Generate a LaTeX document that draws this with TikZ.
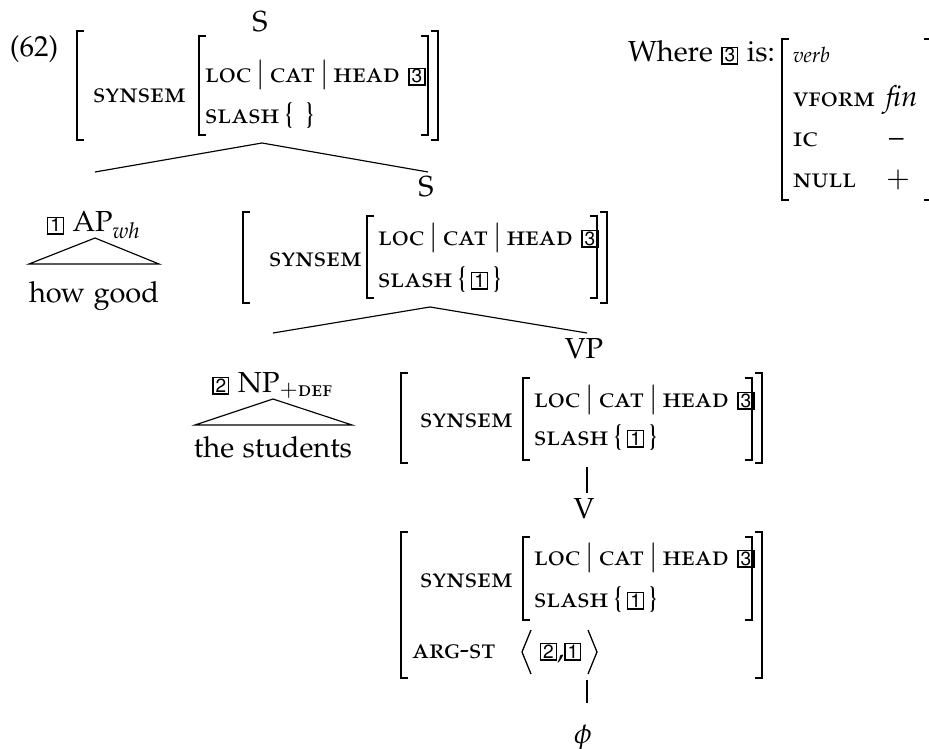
\documentclass[tikz,border=0pt]{standalone}
\usepackage[T1]{fontenc}
\usepackage[sc]{mathpazo}
\usepackage{amsmath}

% feature names in small capitals
\newcommand\fsc[1]{{\fontsize{9.6}{11}\selectfont\textsc{#1}}}
% boxed index tag and path separator used inside the feature structures
\newcommand\tagbx[1]{{\setlength\fboxsep{0pt}\setlength\fboxrule{0.4pt}\fbox{\makebox[5.1pt]{\rule[-0.5pt]{0pt}{5.1pt}\fontsize{6.6}{6.6}\usefont{T1}{phv}{m}{n}#1}}}}
\newcommand\avsep{\kern1.6pt$|$\kern1.6pt}
% square brackets of a feature structure: x, top y, bottom y
\newcommand\lbrkt[3]{\draw[brk] ({#1+7},#2) -- (#1,#2) -- (#1,#3) -- ({#1+7},#3);}
\newcommand\rbrkt[3]{\draw[brk] ({#1-7},#2) -- (#1,#2) -- (#1,#3) -- ({#1-7},#3);}

\tikzset{
  every node/.style={inner sep=0pt, outer sep=0pt, font=\fontsize{10}{12}\selectfont},
  lab/.style={anchor=base},
  feat/.style={anchor=base west},
  brk/.style={line width=0.45pt},
  edge/.style={line width=0.4pt},
}

\begin{document}
\begin{tikzpicture}[x=0.345pt, y=-0.345pt]
\useasboundingbox (0,0) rectangle (929,749);

% ---------- root S ----------
\node[feat] (ex) at (10,57) {(62)};
\node[lab] (s1) at (260,32) {S};
\lbrkt{77}{31}{140} \lbrkt{199}{36}{135} \rbrkt{428}{36}{135} \rbrkt{438}{31}{140}
\node[feat] (s1syn) at (93,103) {\fsc{synsem}};
\node[feat] (s1loc) at (205,83) {\fsc{loc}\avsep\fsc{cat}\avsep\fsc{head} \tagbx{3}};
\node[feat] (s1sl) at (205,124) {\fsc{slash}\,\{\hspace{4pt}\}};

\coordinate (s1b) at (262,143);
\coordinate (apt) at (95,172);
\coordinate (s2t) at (428,172);
\draw[edge] (apt) -- (s1b) -- (s2t);

% ---------- filler AP ----------
\node[lab] (ap) at (94,232) {\tagbx{1} AP$_{\mathit{wh}}$};
\coordinate (apx) at (95,238);
\coordinate (apl) at (29,264);
\coordinate (apr) at (159,264);
\draw[edge] (apx) -- (apl) -- (apr) -- cycle;
\node[lab] (hg) at (94,303) {how good};

% ---------- S with slash ----------
\node[lab] (s2) at (426,197) {S};
\lbrkt{243}{212}{303} \lbrkt{367}{216}{298} \rbrkt{597}{216}{298} \rbrkt{607}{212}{303}
\node[feat] (s2syn) at (269,266) {\fsc{synsem}};
\node[feat] (s2loc) at (378,245) {\fsc{loc}\avsep\fsc{cat}\avsep\fsc{head} \tagbx{3}};
\node[feat] (s2sl) at (378,287) {\fsc{slash}\,\{\kern1.5pt\tagbx{1}\kern1.5pt\}};

\coordinate (s2b) at (430,307);
\coordinate (npt) at (273,333);
\coordinate (vpt) at (587,333);
\draw[edge] (npt) -- (s2b) -- (vpt);

% ---------- subject NP ----------
\node[lab] (np) at (273,392) {\tagbx{2} NP$_{+\text{\textsc{def}}}$};
\coordinate (npx) at (273,399);
\coordinate (npl) at (195,425);
\coordinate (npr) at (352,425);
\draw[edge] (npx) -- (npl) -- (npr) -- cycle;
\node[lab] (ts) at (273,457) {the students};

% ---------- VP ----------
\node[lab] (vp) at (584,358) {VP};
\lbrkt{401}{373}{463} \lbrkt{523}{378}{460} \rbrkt{752}{378}{460} \rbrkt{762}{373}{463}
\node[feat] (vpsyn) at (420,427) {\fsc{synsem}};
\node[feat] (vploc) at (534,407) {\fsc{loc}\avsep\fsc{cat}\avsep\fsc{head} \tagbx{3}};
\node[feat] (vpsl) at (534,445) {\fsc{slash}\,\{\kern1.5pt\tagbx{1}\kern1.5pt\}};
\coordinate (vpb) at (587,467);
\coordinate (vt) at (587,493);
\draw[edge] (vpb) -- (vt);

% ---------- V ----------
\node[lab] (v) at (584,518) {V};
\lbrkt{401}{532}{678} \lbrkt{523}{537}{620} \rbrkt{752}{537}{620} \rbrkt{762}{532}{678}
\node[feat] (vsyn) at (420,587) {\fsc{synsem}};
\node[feat] (vloc) at (534,565) {\fsc{loc}\avsep\fsc{cat}\avsep\fsc{head} \tagbx{3}};
\node[feat] (vsl) at (534,607) {\fsc{slash}\,\{\kern1.5pt\tagbx{1}\kern1.5pt\}};
\node[feat] (varg) at (412,658) {\fsc{arg-st}};
% angle brackets round the argument list
\draw[brk] (531,630) -- (522,652) -- (531,674);
\draw[brk] (588,630) -- (597,652) -- (588,674);
\node[feat] (vargv) at (540,658) {\tagbx{2},\tagbx{1}};
\coordinate (vb) at (587,680);
\coordinate (phit) at (587,703);
\draw[edge] (vb) -- (phit);
\node[lab] (phi) at (583,743) {$\phi$};

% ---------- value of tag 3 ----------
\node[feat] (wh) at (628,62) {Where \tagbx{3} is:};
\lbrkt{782}{39}{200} \rbrkt{931}{39}{200}
\node[feat] (hverb) at (793,63) {\fontsize{7.3}{9}\selectfont\textit{verb}};
\node[feat] (hvf) at (793,107) {\fsc{vform}};
\node[feat] (hvfv) at (886,107) {\textit{fin}};
\node[feat] (hic) at (793,147) {\fsc{ic}};
\node[feat] (hicv) at (889,147) {--};
\node[feat] (hnull) at (793,188) {\fsc{null}};
\node[feat] (hnullv) at (886,188) {$+$};
\end{tikzpicture}
\end{document}
